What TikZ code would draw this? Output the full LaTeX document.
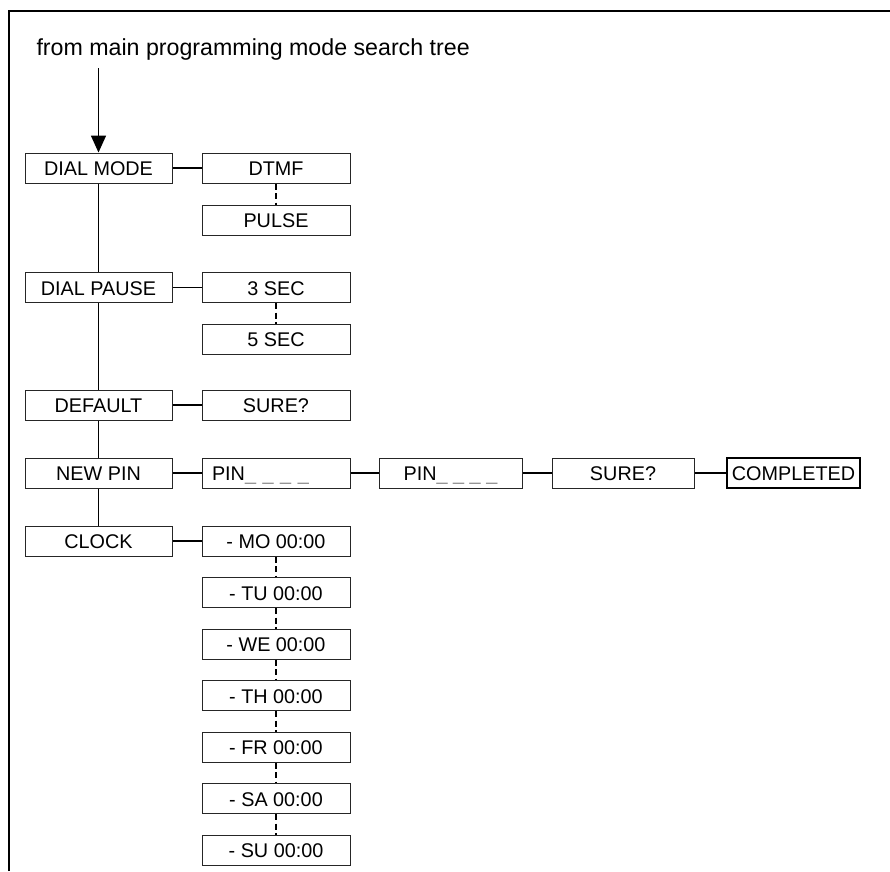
\documentclass[tikz,border=0pt]{standalone}
\usepackage{fontspec}
\setmainfont{Liberation Sans}
\usetikzlibrary{arrows.meta}

\begin{document}
\begin{tikzpicture}[x=1pt,y=-1pt]
  \tikzset{every node/.style={draw=black!85, line width=1pt, inner sep=0pt, minimum height=30pt,
      text height=15pt, text depth=0pt, font=\fontsize{19.8}{22}\selectfont}}
  \tikzset{menu/.style={minimum width=147pt}}
  \tikzset{choice/.style={minimum width=148pt}}
  \tikzset{link/.style={line width=1.1pt}}
  \tikzset{alt/.style={line width=1.1pt, dash pattern=on 6pt off 3.5pt}}
  \newcommand{\blank}{\textcolor{black!45}{\_ \_ \_ \_}}

  \useasboundingbox (0,0) rectangle (890,871);
  \draw[line width=2.4pt] (9,871) -- (9,11) -- (890,11);

  \node[draw=none, anchor=base west, minimum height=0pt, text height=, font=\fontsize{23.2}{27}\selectfont]
    (title) at (36,55) {from main programming mode search tree};
  \coordinate (entry) at (98.5,68);

  % main menu
  \node[menu] (dialmode) at (98.5,168) {DIAL MODE};
  \node[menu] (dialpause) at (98.5,287.5) {DIAL PAUSE};
  \node[menu] (default) at (98.5,405) {DEFAULT};
  \node[menu] (newpin) at (98.5,473) {NEW PIN};
  \node[menu] (clock) at (98.5,541) {CLOCK};

  % choices
  \node[choice] (dtmf) at (276,168) {DTMF};
  \node[choice] (pulse) at (276,220) {PULSE};
  \node[choice] (sec3) at (276,287.5) {3 SEC};
  \node[choice] (sec5) at (276,339) {5 SEC};
  \node[choice] (sure) at (276,405) {SURE?};
  \node[choice, text width=128pt, align=left, inner xsep=10pt] (pin) at (276,473) {PIN\blank};
  \node[minimum width=143pt] (pinagain) at (450.5,473) {PIN\blank};
  \node[minimum width=142pt] (surepin) at (623,473) {SURE?};
  \node[minimum width=133pt, draw=black, line width=1.2pt] (done) at (793.5,473) {COMPLETED};

  % days
  \node[choice] (mo) at (276,541) {- MO 00:00};
  \node[choice] (tu) at (276,592.5) {- TU 00:00};
  \node[choice] (we) at (276,644) {- WE 00:00};
  \node[choice] (th) at (276,695.5) {- TH 00:00};
  \node[choice] (fr) at (276,747) {- FR 00:00};
  \node[choice] (sa) at (276,798.5) {- SA 00:00};
  \node[choice] (su) at (276,850) {- SU 00:00};

  \draw[line width=1.6pt, -{Triangle[width=15pt,length=17pt]}] (entry) -- (dialmode.north);
  \draw[line width=1.6pt] (dialmode) -- (dialpause) -- (default) -- (newpin) -- (clock);

  \draw[link] (dialmode) -- (dtmf);
  \draw[link] (dialpause) -- (sec3);
  \draw[link] (default) -- (sure);
  \draw[link] (newpin) -- (pin);
  \draw[link] (pin) -- (pinagain);
  \draw[link] (pinagain) -- (surepin);
  \draw[link] (surepin) -- (done);
  \draw[link] (clock) -- (mo);

  \draw[alt] (dtmf) -- (pulse);
  \draw[alt] (sec3) -- (sec5);
  \draw[alt] (mo) -- (tu);
  \draw[alt] (tu) -- (we);
  \draw[alt] (we) -- (th);
  \draw[alt] (th) -- (fr);
  \draw[alt] (fr) -- (sa);
  \draw[alt] (sa) -- (su);
\end{tikzpicture}
\end{document}
